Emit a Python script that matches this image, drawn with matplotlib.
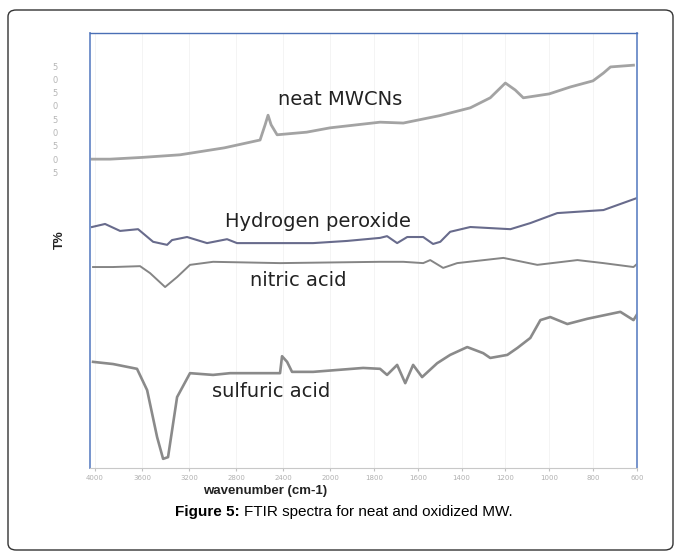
import numpy as np
import matplotlib.pyplot as plt
from matplotlib.patches import FancyBboxPatch

# FTIR spectra (wavenumber cm-1, T% in arbitrary offset units)
neat_wn = [4026, 3872, 3600, 3277, 2900, 2596, 2553, 2528, 2502, 2451, 2200, 2000,
           1772, 1666, 1500, 1360, 1269, 1200, 1155, 1118, 1000, 903, 800, 752, 720, 615]
neat_t = [71.0, 71.0, 71.4, 72.0, 73.6, 75.4, 78.9, 81.1, 78.9, 76.6, 77.2, 78.2,
          79.5, 79.3, 81.0, 82.8, 85.1, 88.5, 86.9, 85.1, 86.0, 87.6, 89.0, 90.8, 92.2, 92.6]

h2o2_wn = [4026, 3915, 3787, 3634, 3506, 3387, 3345, 3217, 3047, 2877, 2792, 2426,
           2145, 1922, 1772, 1740, 1694, 1648, 1575, 1530, 1497, 1452, 1360, 1177,
           1086, 963, 752, 597]
h2o2_t = [55.4, 56.1, 54.5, 54.9, 52.0, 51.3, 52.4, 53.1, 51.7, 52.6, 51.7, 51.7,
          51.7, 52.2, 52.9, 53.3, 51.7, 53.1, 53.1, 51.5, 52.0, 54.3, 55.4, 54.9,
          56.3, 58.6, 59.3, 62.1]

nitric_wn = [4017, 3847, 3617, 3532, 3404, 3302, 3192, 2996, 2426, 1772, 1666,
             1575, 1543, 1484, 1420, 1209, 1054, 871, 752, 615, 583]
nitric_t = [46.2, 46.2, 46.4, 44.8, 41.6, 43.9, 46.7, 47.4, 47.1, 47.4, 47.4,
            47.1, 47.8, 46.0, 47.1, 48.3, 46.7, 47.8, 47.1, 46.2, 47.6]

sulf_wn = [4017, 3847, 3643, 3557, 3472, 3421, 3379, 3302, 3192, 2996, 2851, 2426,
           2409, 2366, 2324, 2145, 1849, 1772, 1740, 1694, 1657, 1621, 1580, 1511,
           1452, 1374, 1301, 1269, 1191, 1145, 1086, 1040, 995, 917, 826, 675, 615, 583]
sulf_t = [24.4, 23.9, 22.8, 17.9, 7.1, 2.1, 2.5, 16.3, 21.8, 21.4, 21.8, 21.8,
          25.7, 24.4, 22.1, 22.1, 23.0, 22.8, 21.4, 23.7, 19.5, 23.7, 20.9, 24.1,
          26.0, 27.8, 26.4, 25.3, 26.0, 27.6, 29.9, 34.0, 34.7, 33.1, 34.3, 35.9, 34.0, 36.6]

xticks = [4000, 3600, 3200, 2800, 2400, 2000, 1800, 1600, 1400, 1200, 1000, 800, 600]

# FTIR axes change step at 2000 cm-1 (400 per division above, 200 below)
LOW = 43.8 / 47.0


def fwd(w):
    w = np.asarray(w, dtype=float)
    return np.where(w >= 2000, w / 400.0, 5.0 - (2000.0 - w) / 200.0 * LOW)


def inv(p):
    p = np.asarray(p, dtype=float)
    return np.where(p >= 5, p * 400.0, 2000.0 - (5.0 - p) / LOW * 200.0)


W, H = 681.0, 558.0
fig = plt.figure(figsize=(6.81, 5.58), dpi=100)
fig.patch.set_facecolor('white')

border = FancyBboxPatch((8 / W, 8 / H), 665 / W, 540 / H,
                        boxstyle='round,pad=0,rounding_size=0.012',
                        transform=fig.transFigure, fill=False,
                        edgecolor='#333333', linewidth=1.0)
fig.patches.append(border)

ax = fig.add_axes([90 / W, 1 - 468 / H, 547 / W, 435 / H])
ax.set_xscale('function', functions=(fwd, inv))

ax.plot(neat_wn, neat_t, color='#a3a3a3', lw=2.0)
ax.plot(h2o2_wn, h2o2_t, color='#686b8c', lw=1.5)
ax.plot(nitric_wn, nitric_t, color='#858585', lw=1.4)
ax.plot(sulf_wn, sulf_t, color='#8a8a8a', lw=1.9)

ax.set_xlim(4043, 599)
ax.set_ylim(0, 100)
ax.set_xticks(xticks)
ax.set_xticklabels([str(t) for t in xticks], fontsize=5, color='#b0b0b0')
ax.tick_params(axis='x', length=2, color='#c0c0c0', pad=3)
ax.set_yticks([])
ax.grid(axis='x', color='#f2f2f2', lw=0.6)

for side in ['left', 'right']:
    ax.spines[side].set_color('#6b8bc8')
    ax.spines[side].set_linewidth(1.3)
ax.spines['top'].set_color('#4a6fb5')
ax.spines['top'].set_linewidth(1.0)
ax.spines['bottom'].set_color('#c8c8c8')
ax.spines['bottom'].set_linewidth(0.8)

lab = dict(fontsize=14, family='DejaVu Sans', color='#222222',
           ha='center', va='center', transform=ax.transAxes)
ax.text(0.457, 0.846, 'neat MWCNs', **lab)
ax.text(0.417, 0.566, 'Hydrogen peroxide', **lab)
ax.text(0.380, 0.432, 'nitric acid', **lab)
ax.text(0.331, 0.177, 'sulfuric acid', **lab)

ax.set_xlabel('wavenumber (cm-1)', fontsize=9.5, fontweight='bold',
              family='Liberation Sans', color='#222222')
ax.xaxis.set_label_coords(0.32, -0.038)

fig.text(60 / W, 1 - 240 / H, 'T%', rotation=90, fontsize=9, fontweight='bold',
         family='Liberation Sans', ha='center', va='center', color='#222222')

# faint scanned y labels left of the frame
for i, s in enumerate(['5', '0', '5', '0', '5', '0', '5', '0', '5']):
    fig.text(55 / W, 1 - (67 + i * 13.3) / H, s, fontsize=6, color='#b5b5b5',
             ha='center', va='center')

cap = dict(fontsize=11, family='Liberation Sans', va='center', ha='left')
t1 = fig.text(175 / W, 1 - 512 / H, 'Figure 5:', fontweight='bold', **cap)
fig.canvas.draw()
bb = t1.get_window_extent()
fig.text((bb.x1 + 4) / W, 1 - 512 / H, 'FTIR spectra for neat and oxidized MW.', **cap)

fig.savefig('out.png', dpi=100)
